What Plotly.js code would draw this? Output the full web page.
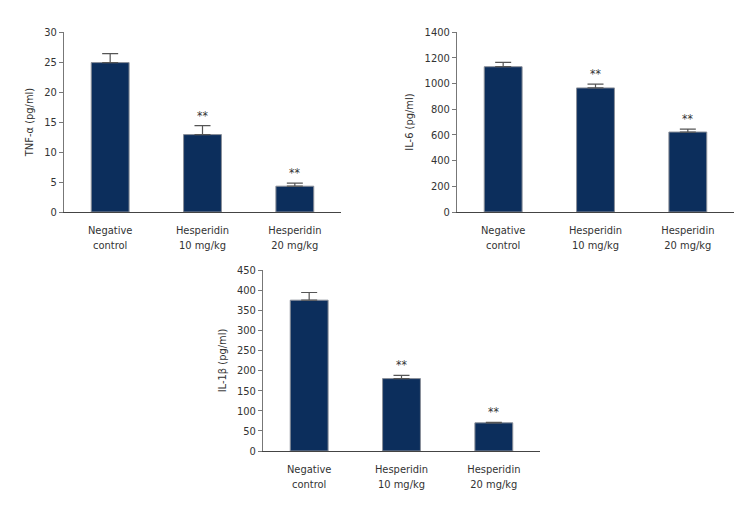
<!DOCTYPE html>
<html>
<head>
<meta charset="utf-8">
<script src="https://cdn.plot.ly/plotly-3.0.1.min.js"></script>
<style>html,body{margin:0;padding:0;background:#fff;}#chart{width:756px;height:516px;}</style>
</head>
<body>
<div id="chart"></div>
<script>
const categories = ["Negative<br>control", "Hesperidin<br>10 mg/kg", "Hesperidin<br>20 mg/kg"];
const tnfValues = [24.9, 12.9, 4.3];
const tnfErrors = [1.5, 1.5, 0.5];
const il6Values = [1130, 965, 622];
const il6Errors = [33, 30, 22];
const il1bValues = [375, 180, 70];
const il1bErrors = [19, 8, 1];
const stars = ["", "**", "**"];
const yTitles = ["TNF-α (pg/ml)", "IL-6 (pg/ml)", "IL-1β (pg/ml)"];

const W = 756, H = 516;
const FONT = "'DejaVu Sans Condensed', 'Liberation Sans Narrow', sans-serif";
const barColor = "#0c2e5c";

const panels = [
  {vals: tnfValues, errs: tnfErrors, range: [0, 30], dtick: 5, x0: 64, x1: 341, y0: 32, y1: 212},
  {vals: il6Values, errs: il6Errors, range: [0, 1400], dtick: 200, x0: 457, x1: 734, y0: 32, y1: 212},
  {vals: il1bValues, errs: il1bErrors, range: [0, 450], dtick: 50, x0: 263, x1: 540, y0: 270, y1: 451}
];

const traces = [];
const layout = {
  width: W, height: H,
  margin: {l: 0, r: 0, t: 0, b: 0},
  paper_bgcolor: "#fff", plot_bgcolor: "#fff",
  showlegend: false,
  font: {family: FONT, size: 11, color: "#333"},
  annotations: []
};

panels.forEach((p, i) => {
  const n = i === 0 ? "" : String(i + 1);
  traces.push({
    type: "bar",
    x: categories,
    y: p.vals,
    xaxis: "x" + n, yaxis: "y" + n,
    width: 0.41,
    marker: {color: barColor, line: {color: "#8a8f99", width: 1}},
    error_y: {type: "data", array: p.errs, arrayminus: p.vals.map(() => 0), symmetric: false,
              color: "#555", thickness: 1.2, width: 8},
    hoverinfo: "skip"
  });
  layout["xaxis" + n] = {
    domain: [p.x0 / W, p.x1 / W],
    anchor: "y" + n,
    showline: true, linecolor: "#444", linewidth: 1.2,
    ticks: "", showgrid: false, zeroline: false,
    ticklabelstandoff: 8,
    tickfont: {family: FONT, size: 11, color: "#333"},
    fixedrange: true
  };
  layout["yaxis" + n] = {
    domain: [1 - p.y1 / H, 1 - p.y0 / H],
    anchor: "x" + n,
    range: p.range, dtick: p.dtick, tick0: 0,
    showline: true, linecolor: "#777", linewidth: 1,
    ticks: "outside", ticklen: 4, tickcolor: "#777",
    showgrid: false, zeroline: false,
    tickfont: {family: FONT, size: 11, color: "#333"},
    title: {text: yTitles[i], font: {family: FONT, size: 11, color: "#333"}, standoff: 8},
    fixedrange: true
  };
  p.vals.forEach((v, j) => {
    if (stars[j]) {
      layout.annotations.push({
        xref: "x" + n, yref: "y" + n,
        x: categories[j], y: v + p.errs[j],
        text: stars[j], showarrow: false,
        yanchor: "bottom", yshift: 1,
        font: {family: FONT, size: 12, color: "#333"}
      });
    }
  });
});

Plotly.newPlot("chart", traces, layout, {displayModeBar: false, staticPlot: true});
</script>
</body>
</html>
